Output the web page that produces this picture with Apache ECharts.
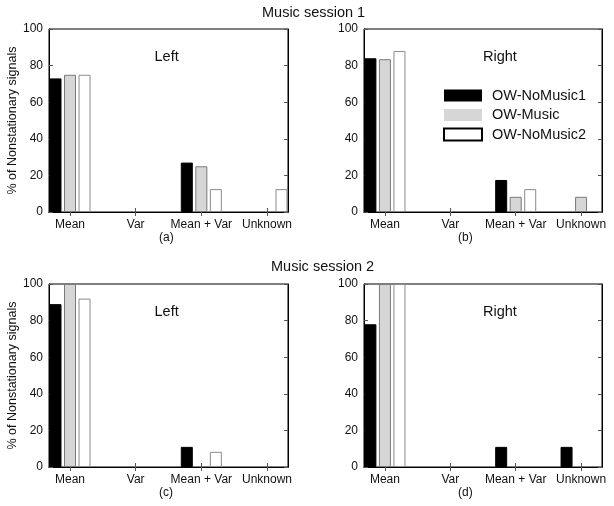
<!DOCTYPE html>
<html>
<head>
<meta charset="utf-8">
<script src="https://cdn.jsdelivr.net/npm/echarts@6/dist/echarts.min.js"></script>
<style>
  html, body { margin: 0; padding: 0; background: #fff; }
  #main { width: 614px; height: 506px; }
</style>
</head>
<body>
<div id="main"></div>
<script>
// categories on the x axis (placed at 1..4)
const categories = ['Mean', 'Var', 'Mean + Var', 'Unknown'];
const yTicks = [0, 20, 40, 60, 80, 100];

// Music session 1
const leftS1NoMusic1 = [73, 0, 27, 0];
const leftS1Music = [75, 0, 25, 0];
const leftS1NoMusic2 = [75, 0, 12.5, 12.5];
const rightS1NoMusic1 = [84, 0, 17.5, 0];
const rightS1Music = [83.5, 0, 8.3, 8.3];
const rightS1NoMusic2 = [88, 0, 12.5, 0];

// Music session 2
const leftS2NoMusic1 = [89, 0, 11, 0];
const leftS2Music = [100, 0, 0, 0];
const leftS2NoMusic2 = [92, 0, 8.3, 0];
const rightS2NoMusic1 = [78, 0, 11, 11];
const rightS2Music = [100, 0, 0, 0];
const rightS2NoMusic2 = [100, 0, 0, 0];

const seriesNames = ['OW-NoMusic1', 'OW-Music', 'OW-NoMusic2'];
const font = 'Liberation Sans, Arial, sans-serif';

const panels = [
  { grid: { left: 49, top: 29, width: 239, height: 183 }, side: 'Left', tag: '(a)', yName: true,
    data: [leftS1NoMusic1, leftS1Music, leftS1NoMusic2] },
  { grid: { left: 364, top: 29, width: 238, height: 183 }, side: 'Right', tag: '(b)', yName: false,
    data: [rightS1NoMusic1, rightS1Music, rightS1NoMusic2] },
  { grid: { left: 49, top: 284, width: 239, height: 183 }, side: 'Left', tag: '(c)', yName: true,
    data: [leftS2NoMusic1, leftS2Music, leftS2NoMusic2] },
  { grid: { left: 364, top: 284, width: 238, height: 183 }, side: 'Right', tag: '(d)', yName: false,
    data: [rightS2NoMusic1, rightS2Music, rightS2NoMusic2] }
];

const barStyles = [
  { color: '#000', borderColor: '#000', borderWidth: 1 },
  { color: '#d6d6d6', borderColor: '#7a7a7a', borderWidth: 1 },
  { color: '#fff', borderColor: '#8a8a8a', borderWidth: 1 }
];

const catPos = categories.map((c, i) => i + 1);

let grid = [], xAxis = [], yAxis = [], series = [], graphic = [];

panels.forEach((p, gi) => {
  grid.push(Object.assign({ show: true, borderColor: '#000', borderWidth: 1, backgroundColor: '#fff' }, p.grid));

  // bottom x axis with labels
  xAxis.push({
    type: 'value', gridIndex: gi, position: 'bottom', min: 0.68, max: 4.32,
    axisLine: { show: true, lineStyle: { color: '#000' } },
    axisTick: { show: true, inside: true, length: 4, customValues: catPos, lineStyle: { color: '#555' } },
    axisLabel: { show: true, customValues: catPos, color: '#111', fontFamily: font, fontSize: 12, margin: 7,
      formatter: v => categories[Math.round(v) - 1] || '' },
    splitLine: { show: false }
  });
  // top x axis, ticks only
  xAxis.push({
    type: 'value', gridIndex: gi, position: 'top', min: 0.68, max: 4.32,
    axisLine: { show: true, lineStyle: { color: '#000' } },
    axisTick: { show: true, inside: true, length: 4, customValues: catPos, lineStyle: { color: '#555' } },
    axisLabel: { show: false },
    splitLine: { show: false }
  });
  yAxis.push({
    type: 'value', gridIndex: gi, position: 'left', min: 0, max: 100, interval: 20,
    name: p.yName ? '% of Nonstationary signals' : '',
    nameLocation: 'middle', nameGap: 30,
    nameTextStyle: { color: '#111', fontFamily: font, fontSize: 12.5 },
    axisLine: { show: true, lineStyle: { color: '#000' } },
    axisTick: { show: true, inside: true, length: 4, lineStyle: { color: '#555' } },
    axisLabel: { color: '#111', fontFamily: font, fontSize: 12, margin: 6 },
    splitLine: { show: false }
  });
  yAxis.push({
    type: 'value', gridIndex: gi, position: 'right', min: 0, max: 100, interval: 20,
    axisLine: { show: true, lineStyle: { color: '#000' } },
    axisTick: { show: true, inside: true, length: 4, lineStyle: { color: '#555' } },
    axisLabel: { show: false },
    splitLine: { show: false }
  });

  p.data.forEach((vals, si) => {
    series.push({
      name: seriesNames[si],
      type: 'bar',
      xAxisIndex: gi * 2,
      yAxisIndex: gi * 2,
      barWidth: 12,
      barGap: '21%',
      itemStyle: barStyles[si],
      emphasis: { disabled: true },
      // zero-height bars are not drawn
      data: vals.map((v, i) => [catPos[i], v === 0 ? '-' : v])
    });
  });

  graphic.push({
    type: 'text', left: p.grid.left + p.grid.width * 0.5 - 14 + (p.side === 'Right' ? 14 : 0),
    top: p.grid.top + 20,
    style: { text: p.side, fontFamily: font, fontSize: 14.5, fill: '#111' }
  });
  graphic.push({
    type: 'text', left: p.grid.left + (p.side === 'Right' ? 94 : 110), top: p.grid.top + 203,
    style: { text: p.tag, fontFamily: font, fontSize: 12, fill: '#111' }
  });
});

graphic.push({ type: 'text', left: 262, top: 5, style: { text: 'Music session 1', fontFamily: font, fontSize: 14.5, fill: '#111' } });
graphic.push({ type: 'text', left: 271, top: 259, style: { text: 'Music session 2', fontFamily: font, fontSize: 14.5, fill: '#111' } });

const chart = echarts.init(document.getElementById('main'), null, { renderer: 'canvas' });
chart.setOption({
  animation: false,
  backgroundColor: '#fff',
  grid: grid,
  xAxis: xAxis,
  yAxis: yAxis,
  legend: {
    orient: 'vertical', left: 443, top: 88, padding: 0,
    icon: 'rect',
    itemWidth: 38, itemHeight: 12, itemGap: 4.5,
    textStyle: { fontFamily: font, fontSize: 14.5, color: '#111', padding: [0, 0, 0, 5] },
    data: [
      { name: 'OW-NoMusic1', itemStyle: { color: '#000', borderWidth: 0 } },
      { name: 'OW-Music', itemStyle: { color: '#d6d6d6', borderWidth: 0 } },
      { name: 'OW-NoMusic2', itemStyle: { color: '#fff', borderColor: '#000', borderWidth: 2 } }
    ]
  },
  graphic: graphic,
  series: series
});
</script>
</body>
</html>
